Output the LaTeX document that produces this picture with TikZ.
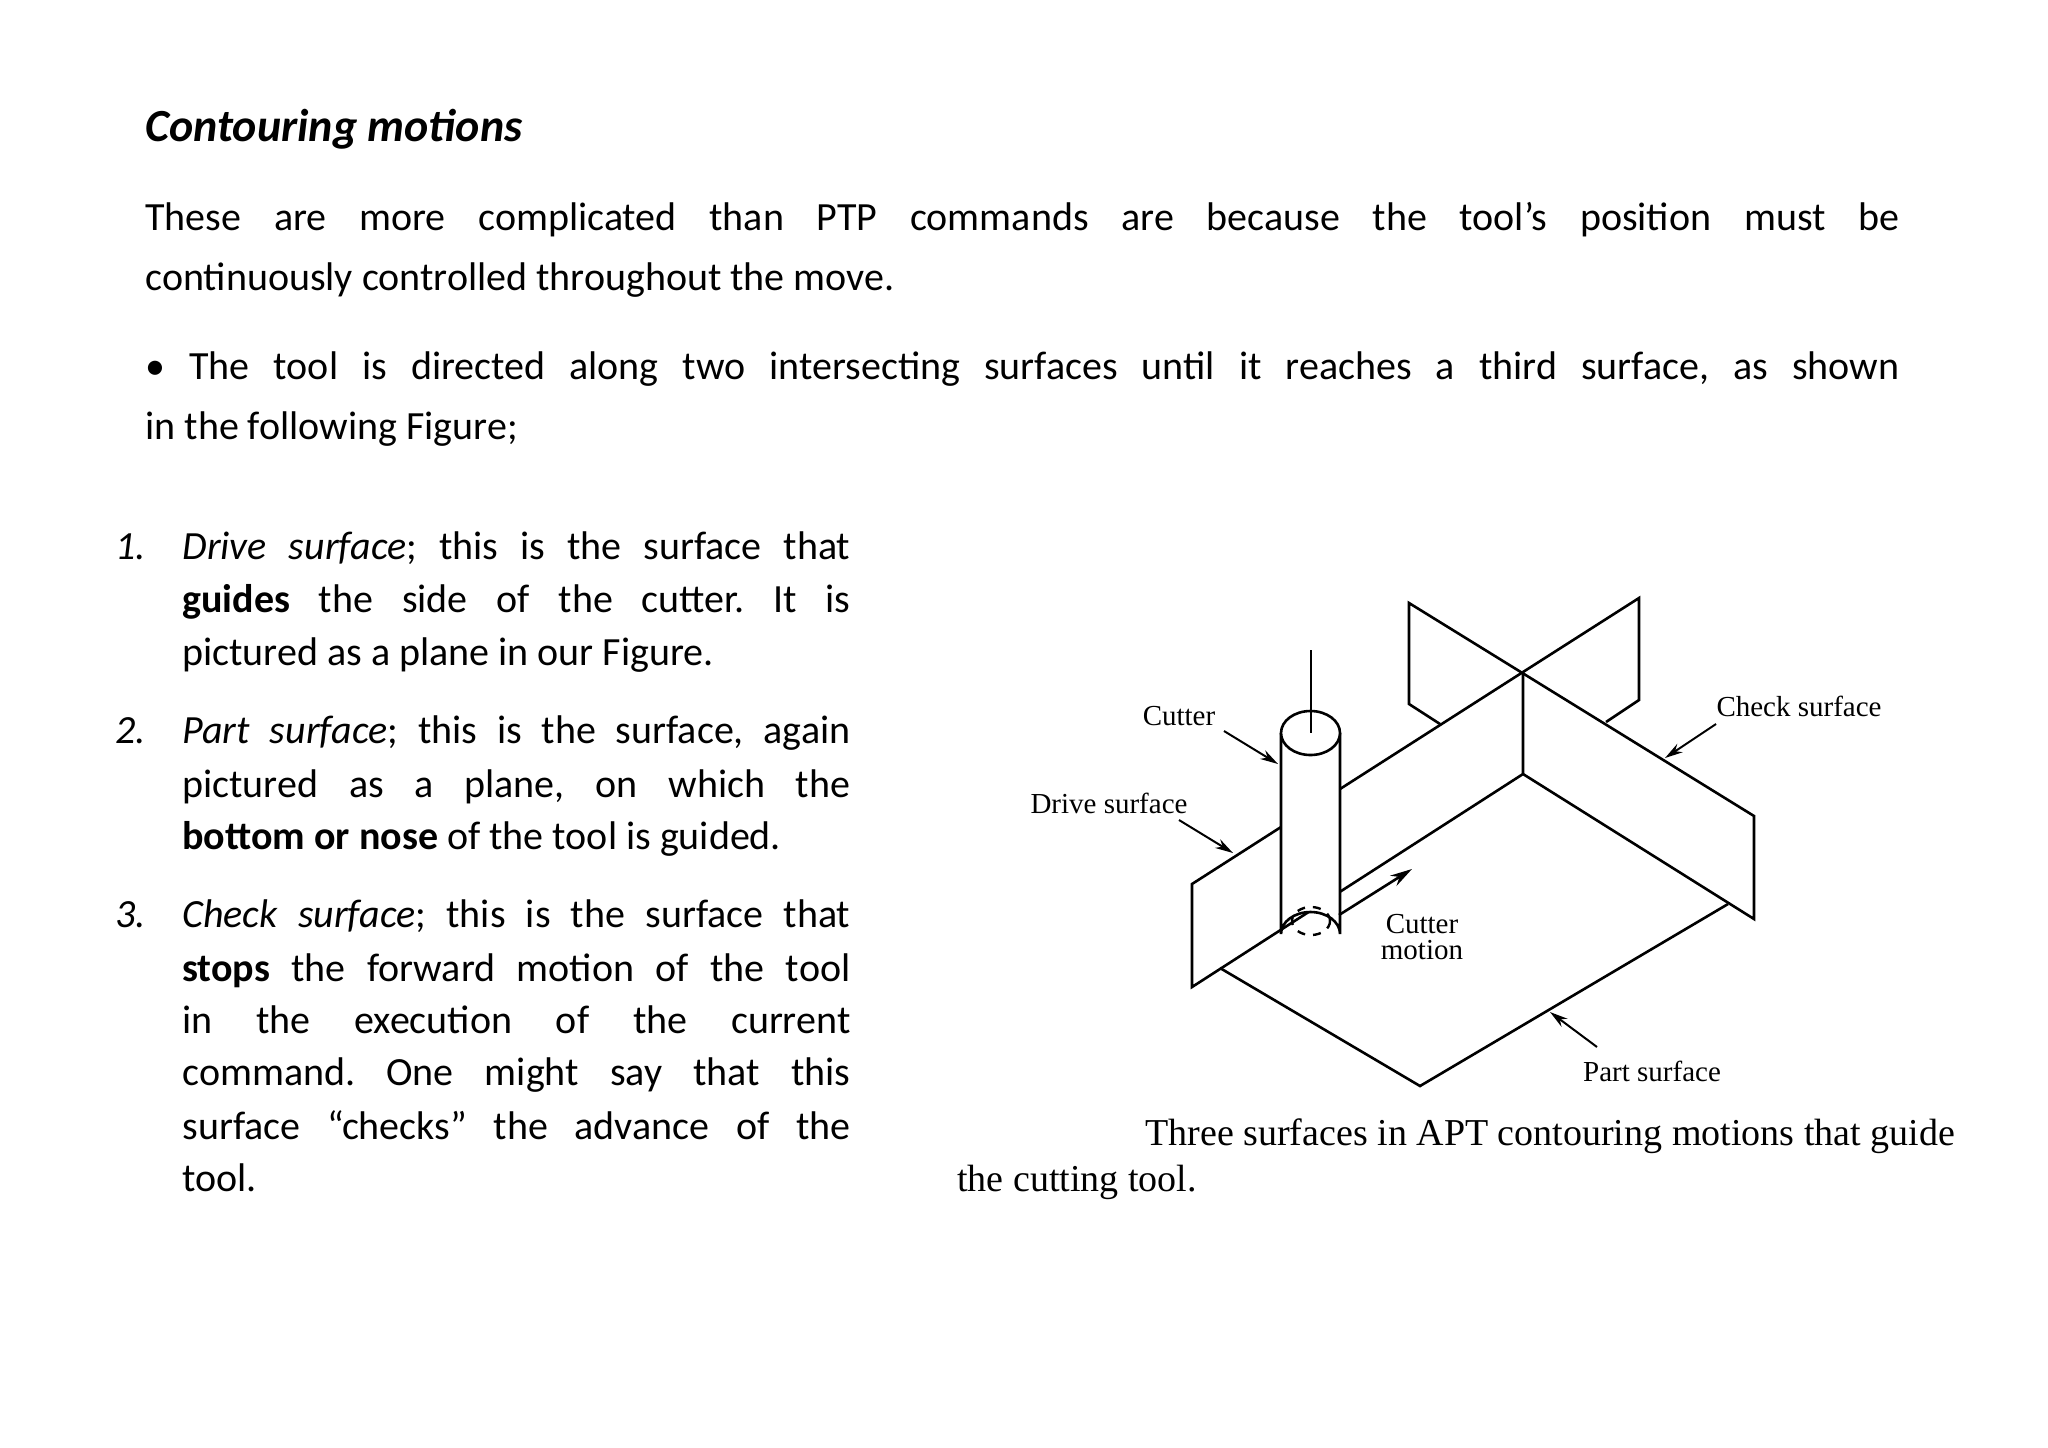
\documentclass[tikz,border=0pt]{standalone}
\usepackage{fontspec}
\setmainfont{Carlito}
\newfontfamily\serifd{Liberation Serif}
\usetikzlibrary{arrows.meta}
\frenchspacing
\begin{document}
\begin{tikzpicture}[x=0.5pt,y=-0.5pt,
  body/.style={anchor=base west,inner sep=0pt,font=\fontsize{20}{24}\selectfont},
  lbl/.style={font=\serifd\fontsize{14.5}{16}\selectfont,inner sep=1pt},
  edge/.style={line width=1.3pt,line join=miter},
  pointer/.style={line width=1pt,-{Stealth[length=9pt,width=5pt]}}]
\useasboundingbox[fill=white] (0,0) rectangle (2048,1447);
% text
\node[body,font=\fontsize{23}{26}\selectfont] (t0) at (145,141) {\textbf{\textit{Contouring motions}}};
\node[body] (t1) at (145,230) {\makebox[877pt][s]{These are more complicated than PTP commands are because the tool’s position must be}};
\node[body] (t2) at (145,290) {continuously controlled throughout the move.};
\node[body] (t3) at (145,379) {\makebox[877pt][s]{• The tool is directed along two intersecting surfaces until it reaches a third surface, as shown}};
\node[body] (t4) at (145,439) {in the following Figure;};
\node[body] (n1) at (115,559) {\textit{1.}};
\node[body] (a1) at (182,559) {\makebox[334pt][s]{\textit{Drive surface}; this is the surface that}};
\node[body] (a2) at (182,612) {\makebox[334pt][s]{\textbf{guides} the side of the cutter. It is}};
\node[body] (a3) at (182,665) {pictured as a plane in our Figure.};
\node[body] (n2) at (115,743) {\textit{2.}};
\node[body] (b1) at (182,743) {\makebox[334pt][s]{\textit{Part surface}; this is the surface, again}};
\node[body] (b2) at (182,797) {\makebox[334pt][s]{pictured as a plane, on which the}};
\node[body] (b3) at (182,849) {\textbf{bottom or nose} of the tool is guided.};
\node[body] (n3) at (115,927) {\textit{3.}};
\node[body] (c1) at (182,927) {\makebox[334pt][s]{\textit{Check surface}; this is the surface that}};
\node[body] (c2) at (182,981) {\makebox[334pt][s]{\textbf{stops} the forward motion of the tool}};
\node[body] (c3) at (182,1033) {\makebox[334pt][s]{in the execution of the current}};
\node[body] (c4) at (182,1085) {\makebox[334pt][s]{command. One might say that this}};
\node[body] (c5) at (182,1139) {\makebox[334pt][s]{surface “checks” the advance of the}};
\node[body] (c6) at (182,1191) {tool.};
% geometry
\coordinate (C) at (1523,672);
\coordinate (V) at (1523,774);
\coordinate (DLt) at (1192,884);
\coordinate (DLb) at (1192,987);
\coordinate (PL) at (1220,968);
\coordinate (PB) at (1420,1086);
\coordinate (PR) at (1728,904);
\coordinate (CRt) at (1754,816);
\coordinate (CRb) at (1754,919);
\coordinate (CB1) at (1409,603);
\coordinate (CB2) at (1409,704);
\coordinate (CB3) at (1440,724);
\coordinate (DB1) at (1639,598);
\coordinate (DB2) at (1639,700);
\coordinate (DB3) at (1606,722);
\coordinate (Dx1) at (1281,827);
\coordinate (Dx2) at (1340,789);
% part surface
\draw[edge] (PL) -- (PB) -- (PR);
% check surface
\draw[edge] (CB3) -- (CB2) -- (CB1) -- (CRt) -- (CRb) -- (V);
% drive surface
\draw[edge] (DB3) -- (DB2) -- (DB1) -- (C);
\draw[edge] (C) -- (V) -- (DLb) -- (DLt) -- (Dx1);
\draw[edge] (Dx2) -- (C);
% cutter
\draw[edge,fill=white] (1281,733) -- (1281,934) arc[start angle=180,end angle=360,x radius=29.5,y radius=22] -- (1340,733);
\draw[edge,fill=white] (1310.5,733) ellipse[x radius=29.5,y radius=22];
\draw[line width=1pt] (1311,650) -- (1311,733);
\draw[line width=1.2pt,dash pattern=on 4pt off 4pt] (1311,921) ellipse[x radius=19,y radius=14];
\draw[line width=1.3pt,-{Stealth[length=11pt,width=6pt]}] (1339,915) -- (1412,869);
% labels
\node[lbl] (lc) at (1179,716) {Cutter};
\node[lbl] (ld) at (1109,803) {Drive surface};
\node[lbl] (lk) at (1799,706) {Check surface};
\node[lbl,align=center] (lm) at (1422,937) {Cutter\\[-3pt]motion};
\node[lbl] (lp) at (1652,1071) {Part surface};
\coordinate (pc) at (1278,764);
\coordinate (pd) at (1233,853);
\coordinate (pk) at (1665,758);
\coordinate (pp) at (1550,1012);
\draw[pointer] (1224,731) -- (pc);
\draw[pointer] (1179,820) -- (pd);
\draw[pointer] (1716,724) -- (pk);
\draw[pointer] (1597,1047) -- (pp);
\node[anchor=base west,inner sep=0pt,font=\serifd\fontsize{19}{22}\selectfont] (cap1) at (1145,1145) {Three surfaces in APT contouring motions that guide};
\node[anchor=base west,inner sep=0pt,font=\serifd\fontsize{19}{22}\selectfont] (cap2) at (957,1191) {the cutting tool.};
\end{tikzpicture}
\end{document}
